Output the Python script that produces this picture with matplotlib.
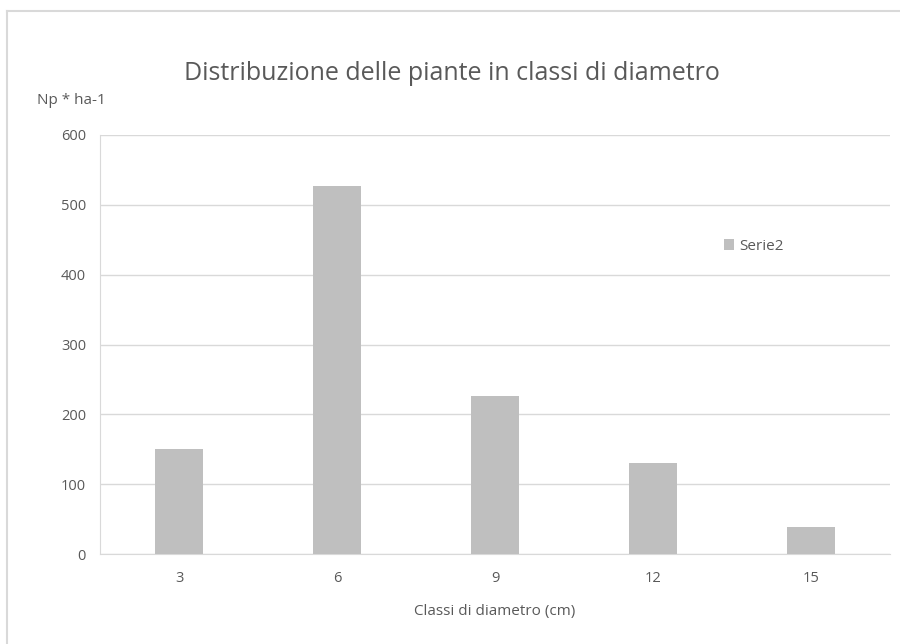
import numpy as np
import matplotlib.pyplot as plt
from matplotlib.lines import Line2D

plt.rcParams['font.family'] = ['Open Sans', 'DejaVu Sans']

# dati
classi = ['3', '6', '9', '12', '15']
piante = [150, 527, 226, 131, 38]

fig = plt.figure(figsize=(9, 6.44), dpi=100)
ax = fig.add_axes([100 / 900, 1 - 554 / 644, 790 / 900, 419 / 644])

x = np.arange(len(classi))
ax.bar(x, piante, width=0.31, color='#bfbfbf', label='Serie2', zorder=3)

ax.set_xlim(-0.5, len(classi) - 0.5)
ax.set_ylim(0, 600)
ax.set_yticks(range(0, 601, 100))
ax.set_xticks(x)
ax.set_xticklabels(classi)
ax.grid(axis='y', color='#d9d9d9', linewidth=1, zorder=0)
for s in ['top', 'right']:
    ax.spines[s].set_visible(False)
ax.spines['left'].set_color('#d9d9d9')
ax.spines['bottom'].set_color('#d9d9d9')
ax.tick_params(length=0, labelsize=10.5, labelcolor='#595959', pad=10)
ax.tick_params(axis='x', pad=12)

ax.set_xlabel('Classi di diametro (cm)', fontsize=11, color='#595959', labelpad=13)
fig.text(37 / 900, 1 - 100 / 644, 'Np * ha-1', fontsize=11, color='#595959', va='center')
fig.text(452 / 900, 1 - 73 / 644, 'Distribuzione delle piante in classi di diametro',
         fontsize=18, color='#595959', ha='center', va='center')

ax.legend(loc='upper left', bbox_to_anchor=(0.772, 0.785), frameon=False, fontsize=11,
          labelcolor='#595959', handlelength=0.7, handleheight=0.7, handletextpad=0.35)

# cornice esterna (solo lati superiore e sinistro visibili)
fig.add_artist(Line2D([7 / 900, 1], [1 - 11 / 644, 1 - 11 / 644], transform=fig.transFigure,
                      color='#d9d9d9', linewidth=1.5))
fig.add_artist(Line2D([7 / 900, 7 / 900], [0, 1 - 11 / 644], transform=fig.transFigure,
                      color='#d9d9d9', linewidth=1.5))

fig.savefig('out.png', dpi=100)
